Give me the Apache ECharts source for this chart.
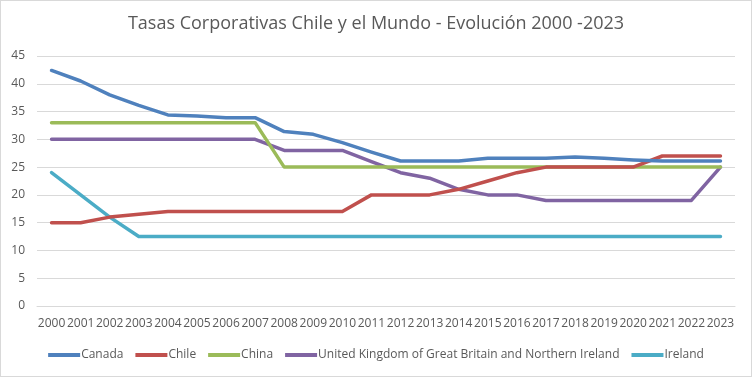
<!DOCTYPE html>
<html>
<head>
<meta charset="utf-8">
<script src="https://cdn.jsdelivr.net/npm/echarts@6/dist/echarts.min.js"></script>
<style>
  html, body { margin: 0; padding: 0; background: #fff; }
  #main { width: 750px; height: 375px; border: 1px solid #d9d9d9; }
</style>
</head>
<body>
<div id="main"></div>
<script>
const years = ['2000', '2001', '2002', '2003', '2004', '2005', '2006', '2007', '2008', '2009', '2010', '2011',
  '2012', '2013', '2014', '2015', '2016', '2017', '2018', '2019', '2020', '2021', '2022', '2023']

const canada = [42.4, 40.5, 38, 36.1, 34.4, 34.2, 33.9, 33.9, 31.4, 30.9, 29.4, 27.7,
  26.1, 26.1, 26.1, 26.6, 26.6, 26.6, 26.8, 26.6, 26.3, 26.1, 26.1, 26.1]
const chile = [15, 15, 16, 16.5, 17, 17, 17, 17, 17, 17, 17, 20,
  20, 20, 21, 22.5, 24, 25, 25, 25, 25, 27, 27, 27]
const china = [33, 33, 33, 33, 33, 33, 33, 33, 25, 25, 25, 25,
  25, 25, 25, 25, 25, 25, 25, 25, 25, 25, 25, 25]
const uk = [30, 30, 30, 30, 30, 30, 30, 30, 28, 28, 28, 26,
  24, 23, 21, 20, 20, 19, 19, 19, 19, 19, 19, 25]
const ireland = [24, 20, 16, 12.5, 12.5, 12.5, 12.5, 12.5, 12.5, 12.5, 12.5, 12.5,
  12.5, 12.5, 12.5, 12.5, 12.5, 12.5, 12.5, 12.5, 12.5, 12.5, 12.5, 12.5]

const names = ['Canada', 'Chile', 'China', 'United Kingdom of Great Britain and Northern Ireland', 'Ireland']
const colors = ['#4f81bd', '#c0504d', '#9bbb59', '#8064a2', '#4bacc6']
const values = [canada, chile, china, uk, ireland]

const font = '"Open Sans", sans-serif'

const chart = echarts.init(document.getElementById('main'))

const series = names.map((name, i) => {
  return {
    name: name,
    type: 'line',
    data: values[i],
    symbol: 'none',
    z: 10 - i,
    lineStyle: { width: 3.5, color: colors[i], cap: 'round', join: 'round' },
    itemStyle: { color: colors[i] }
  }
})

chart.setOption({
  animation: false,
  textStyle: { fontFamily: font },
  title: {
    text: 'Tasas Corporativas Chile y el Mundo - Evolución 2000 -2023',
    left: 'center',
    top: 9,
    textStyle: { fontFamily: font, fontSize: 18, fontWeight: 'normal', color: '#595959' }
  },
  legend: {
    bottom: 10,
    left: 'center',
    itemWidth: 32,
    itemHeight: 4,
    itemGap: 12,
    icon: 'rect',
    textStyle: { fontFamily: font, fontSize: 12, color: '#595959', padding: [0, 0, 0, -4] },
    data: names
  },
  grid: {
    left: 36,
    right: 16,
    top: 55,
    bottom: 70
  },
  xAxis: {
    type: 'category',
    data: years,
    boundaryGap: true,
    axisLine: { lineStyle: { color: '#d9d9d9', width: 1 } },
    axisTick: { show: false },
    axisLabel: { color: '#595959', fontSize: 12, fontFamily: font, interval: 0, margin: 12 }
  },
  yAxis: {
    type: 'value',
    min: 0,
    max: 45,
    interval: 5,
    axisLine: { show: false },
    axisTick: { show: false },
    splitLine: { lineStyle: { color: '#d9d9d9', width: 1 } },
    axisLabel: { color: '#595959', fontSize: 12, fontFamily: font, margin: 12 }
  },
  series: series
})
</script>
</body>
</html>
